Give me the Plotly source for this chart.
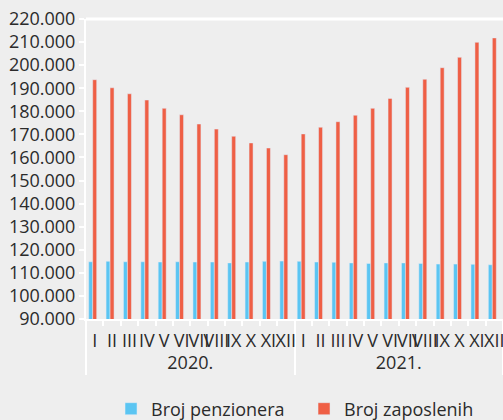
import plotly.graph_objects as go

godine = ["2020."] * 12 + ["2021."] * 12
meseci = ["I", "II", "III", "IV", "V", "VI", "VII", "VIII", "IX", "X", "XI", "XII"] * 2

penzioneri = [114800, 115000, 114800, 114800, 114700, 114800, 114700, 114700, 114300, 114700, 115000, 115100,
              115000, 114700, 114600, 114300, 114100, 114300, 114300, 114100, 113800, 113800, 113700, 113500]
zaposleni = [193700, 190200, 187600, 184900, 181300, 178500, 174500, 172300, 169200, 166300, 164100, 161200,
             170200, 173100, 175500, 178300, 181300, 185600, 190400, 193900, 198900, 203400, 209900, 211800]

font = "Open Sans"
txt = "#2b2b2b"

fig = go.Figure()
fig.add_trace(go.Bar(x=[godine, meseci], y=penzioneri, name="Broj penzionera",
                     marker_color="#5bc5f2", width=0.23, offset=-0.345))
fig.add_trace(go.Bar(x=[godine, meseci], y=zaposleni, name="Broj zaposlenih",
                     marker_color="#ef5f45", width=0.23, offset=-0.115))

fig.update_layout(
    width=503, height=420,
    margin=dict(l=86, r=0, t=19, b=101, autoexpand=False),
    paper_bgcolor="#eeeeee", plot_bgcolor="#eeeeee",
    separators=",.",
    font=dict(family=font, size=17, color=txt),
    barmode="group",
    legend=dict(orientation="h", x=0.06, xanchor="left", y=-0.3, yanchor="middle",
                font=dict(size=18), bgcolor="rgba(0,0,0,0)",
                entrywidth=148, entrywidthmode="pixels"),
    showlegend=True,
)
fig.update_xaxes(
    type="multicategory", showgrid=False, showline=True, linecolor="white", linewidth=2,
    ticks="outside", tickcolor="white", ticklen=5, tickwidth=2, dtick=1,
    dividercolor="white", dividerwidth=2, tickangle=0, automargin=False,
    ticklabelstandoff=4,
    tickfont=dict(size=18, color=txt),
)
fig.update_yaxes(
    range=[90000, 220000], dtick=10000, tickformat=",d", showgrid=False, zeroline=False,
    showline=True, linecolor="white", linewidth=2, automargin=False,
    ticks="outside", tickcolor="white", ticklen=5, tickwidth=2,
    tickfont=dict(size=18, color=txt),
)
fig.add_shape(type="line", xref="paper", yref="paper", x0=0, x1=1, y0=1, y1=1,
              line=dict(color="white", width=3))

# page default margin shifts the figure by 8px
fig.write_html("out.html", config={"displayModeBar": False},
               post_script="document.body.style.margin='0';")
